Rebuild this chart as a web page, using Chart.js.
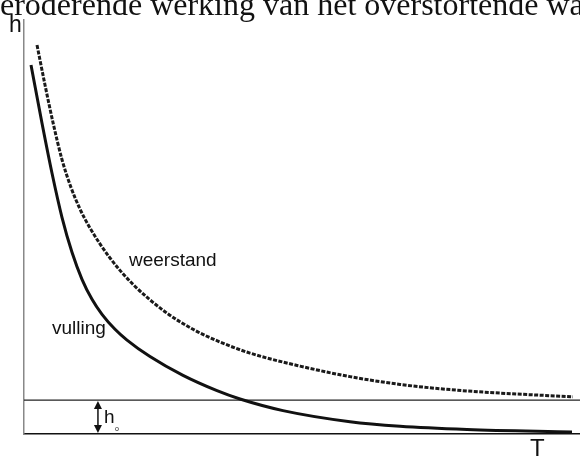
<!DOCTYPE html>
<html>
<head>
<meta charset="utf-8">
<script src="https://cdn.jsdelivr.net/npm/chart.js@4.4.1/dist/chart.umd.min.js"></script>
<style>
  html, body { margin: 0; padding: 0; background: #fff; }
  #wrap { width: 580px; height: 459px; position: relative; }
</style>
</head>
<body>
<div id="wrap"><canvas id="chart"></canvas></div>
<script>
// T (tijd) en h waarden (schaal 0-100)
const vullingT = [1.26, 3.24, 5.04, 6.83, 8.63, 10.43, 12.23, 14.03, 16.37, 18.53, 22.66, 28.6, 34.71, 38.85, 46.58, 58.63, 67.63, 79.68, 98.56];
const vullingH = [89.13, 75.05, 62.97, 52.34, 43.89, 37.37, 32.54, 28.91, 25.29, 22.68, 18.7, 14.15, 10.46, 8.45, 5.65, 2.97, 1.88, 1.11, 0.48];

const weerstandT = [2.34, 3.78, 5.22, 6.83, 8.45, 10.07, 11.87, 15.47, 19.42, 25.36, 30.4, 35.25, 40.65, 49.64, 58.63, 67.63, 76.62, 85.61, 98.74];
const weerstandH = [93.96, 84.3, 75.22, 66.3, 59.57, 54.35, 49.76, 42.51, 36.4, 29.54, 25.29, 22.22, 19.54, 16.4, 13.86, 11.98, 10.72, 9.88, 8.99];

const h0 = 8.2;
const h0Line = [0, 100];
const arrowT = 13.3;

const toPoints = (xs, ys) => xs.map((x, i) => ({ x: x, y: ys[i] }));

// tekst en pijl bovenop de grafiek
const labels = {
    id: 'labels',
    afterDraw(chart) {
        const ctx = chart.ctx;
        const xs = chart.scales.x, ys = chart.scales.y;
        ctx.save();
        ctx.fillStyle = '#111';

        ctx.font = '32px "Liberation Serif"';
        ctx.textBaseline = 'alphabetic';
        ctx.fillText('eroderende werking van het overstortende wa', 0, 15);

        ctx.font = '23px "Liberation Sans"';
        ctx.fillText('h', 9, 32);
        ctx.font = '24px "Liberation Sans"';
        ctx.fillText('T', 530, 456);

        ctx.font = '19px "Liberation Sans"';
        ctx.fillText('weerstand', 129, 266);
        ctx.fillText('vulling', 52, 334);

        // pijl voor h0
        const ax = xs.getPixelForValue(arrowT);
        const top = ys.getPixelForValue(h0) + 1;
        const bot = ys.getPixelForValue(0) - 1;
        ctx.strokeStyle = '#111';
        ctx.lineWidth = 1.5;
        ctx.beginPath();
        ctx.moveTo(ax, top + 5);
        ctx.lineTo(ax, bot - 5);
        ctx.stroke();
        ctx.beginPath();
        ctx.moveTo(ax, top); ctx.lineTo(ax - 4, top + 8); ctx.lineTo(ax + 4, top + 8); ctx.closePath();
        ctx.moveTo(ax, bot); ctx.lineTo(ax - 4, bot - 8); ctx.lineTo(ax + 4, bot - 8); ctx.closePath();
        ctx.fill();

        ctx.font = '19px "Liberation Sans"';
        ctx.fillText('h', ax + 6, 423);
        ctx.font = '7px "Liberation Sans"';
        ctx.fillText('o', ax + 17, 431);
        ctx.restore();
    }
};

new Chart(document.getElementById('chart'), {
    type: 'line',
    data: {
        datasets: [
            {
                label: 'vulling',
                data: toPoints(vullingT, vullingH),
                borderColor: '#111',
                borderWidth: 3,
                pointRadius: 0,
                cubicInterpolationMode: 'monotone'
            },
            {
                label: 'weerstand',
                data: toPoints(weerstandT, weerstandH),
                borderColor: '#1a1a1a',
                borderWidth: 3,
                borderDash: [4, 1.5],
                pointRadius: 0,
                cubicInterpolationMode: 'monotone'
            },
            {
                label: 'h0',
                data: toPoints(h0Line, [h0, h0]),
                borderColor: '#222',
                borderWidth: 1.2,
                pointRadius: 0
            }
        ]
    },
    options: {
        responsive: true,
        maintainAspectRatio: false,
        animation: false,
        layout: { padding: { left: 24, top: 20, right: 0, bottom: 25 } },
        plugins: { legend: { display: false }, tooltip: { enabled: false } },
        scales: {
            x: {
                type: 'linear', min: 0, max: 100,
                ticks: { display: false },
                grid: { display: false, drawTicks: false },
                border: { display: true, color: '#111', width: 1.5 }
            },
            y: {
                min: 0, max: 100,
                ticks: { display: false },
                grid: { display: false, drawTicks: false },
                border: { display: true, color: '#888', width: 1.5 }
            }
        }
    },
    plugins: [labels]
});
</script>
</body>
</html>
